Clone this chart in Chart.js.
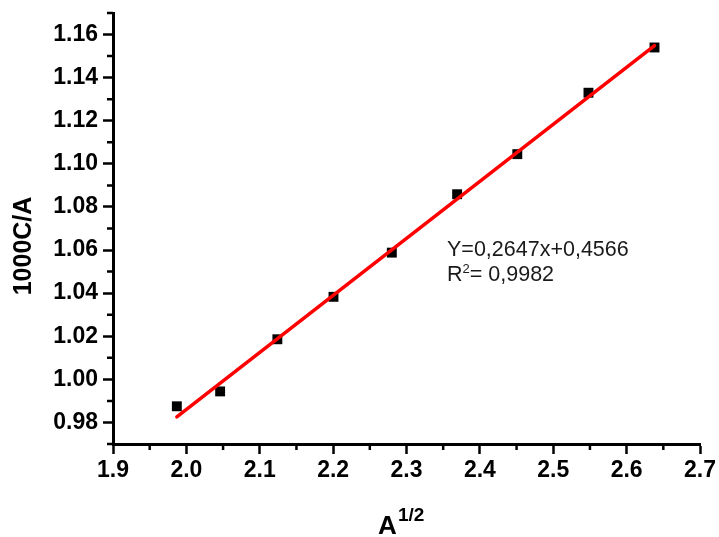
<!DOCTYPE html>
<html>
<head>
<meta charset="utf-8">
<title>1000C/A vs A^1/2</title>
<script src="https://cdn.jsdelivr.net/npm/chart.js@4"></script>
<style>
    html, body { margin: 0; padding: 0; background: #fff; }
    #wrap { width: 719px; height: 537px; }
</style>
</head>
<body>
<div id="wrap"><canvas id="chart" width="719" height="537"></canvas></div>
<script>
// Measured points
const sqrtA = [1.987, 2.046, 2.124, 2.2005, 2.280, 2.369, 2.451, 2.548, 2.638];
const cOverA = [0.9875, 0.9944, 1.0186, 1.0383, 1.0588, 1.0859, 1.1045, 1.133, 1.154];

// Linear fit
const fitSlope = 0.2647;
const fitIntercept = 0.4566;
const rSquared = 0.9982;

// Axis ticks
const xMajorTicks = [1.9, 2.0, 2.1, 2.2, 2.3, 2.4, 2.5, 2.6, 2.7];
const xMinorTicks = [1.95, 2.05, 2.15, 2.25, 2.35, 2.45, 2.55, 2.65];
const yMajorTicks = [0.98, 1.00, 1.02, 1.04, 1.06, 1.08, 1.10, 1.12, 1.14, 1.16];
const yMinorTicks = [0.97, 0.99, 1.01, 1.03, 1.05, 1.07, 1.09, 1.11, 1.13, 1.15, 1.17];

const FONT = '"Liberation Sans", Arial, sans-serif';

function comma(v, digits) {
    return v.toFixed(digits).replace('.', ',');
}

// Fit line drawn between first and last measured x
const fitLine = [sqrtA[0], sqrtA[sqrtA.length - 1]].map(x => ({ x: x, y: fitSlope * x + fitIntercept }));
const points = sqrtA.map((x, i) => ({ x: x, y: cOverA[i] }));

// Short minor ticks, axis titles and the fit equation
const extras = {
    id: 'extras',
    afterDraw(chart) {
        const ctx = chart.ctx;
        const xs = chart.scales.x;
        const ys = chart.scales.y;
        const area = chart.chartArea;

        ctx.save();
        ctx.strokeStyle = '#000';
        ctx.lineWidth = 2.5;
        ctx.beginPath();
        xMinorTicks.forEach(v => {
            const px = xs.getPixelForValue(v);
            ctx.moveTo(px, area.bottom);
            ctx.lineTo(px, area.bottom + 6);
        });
        yMinorTicks.forEach(v => {
            const py = ys.getPixelForValue(v);
            ctx.moveTo(area.left, py);
            ctx.lineTo(area.left - 6, py);
        });
        ctx.stroke();

        ctx.fillStyle = '#000';

        // y title
        ctx.save();
        ctx.translate(24, 246);
        ctx.rotate(-Math.PI / 2);
        ctx.font = 'bold 25px ' + FONT;
        ctx.textAlign = 'center';
        ctx.textBaseline = 'middle';
        ctx.fillText('1000C/A', 0, 0);
        ctx.restore();

        // x title with superscript
        ctx.textAlign = 'left';
        ctx.textBaseline = 'alphabetic';
        ctx.font = 'bold 26px ' + FONT;
        ctx.fillText('A', 378, 534);
        ctx.font = 'bold 19px ' + FONT;
        ctx.fillText('1/2', 398, 521);

        // fit equation
        ctx.fillStyle = '#1a1a1a';
        ctx.font = '21.5px ' + FONT;
        ctx.fillText('Y=' + comma(fitSlope, 4) + 'x+' + comma(fitIntercept, 4), 447, 256);
        ctx.fillText('R', 447, 281);
        const rw = ctx.measureText('R').width;
        ctx.font = '13px ' + FONT;
        ctx.fillText('2', 447 + rw, 273);
        const sw = ctx.measureText('2').width;
        ctx.font = '21.5px ' + FONT;
        ctx.fillText('= ' + comma(rSquared, 4), 447 + rw + sw, 281);
        ctx.restore();
    }
};

new Chart(document.getElementById('chart'), {
    type: 'scatter',
    data: {
        datasets: [
            {
                type: 'line',
                data: fitLine,
                borderColor: '#ff0000',
                borderWidth: 3.5,
                borderCapStyle: 'round',
                pointRadius: 0,
                fill: false,
                order: 0
            },
            {
                data: points,
                pointStyle: 'rect',
                pointRadius: 7,
                backgroundColor: '#000',
                borderWidth: 0,
                order: 1
            }
        ]
    },
    options: {
        responsive: false,
        animation: false,
        events: [],
        layout: { padding: { left: 0, top: 13, right: 19, bottom: 0 } },
        plugins: {
            legend: { display: false },
            tooltip: { enabled: false }
        },
        scales: {
            x: {
                type: 'linear',
                min: 1.9,
                max: 2.7,
                afterBuildTicks: scale => { scale.ticks = xMajorTicks.map(v => ({ value: v })); },
                afterFit: scale => { scale.height = 93; },
                border: { display: true, color: '#000', width: 3 },
                grid: { drawOnChartArea: false, tickLength: 10, tickWidth: 2.5, tickColor: '#000' },
                ticks: {
                    color: '#000',
                    padding: 3,
                    maxRotation: 0,
                    autoSkip: false,
                    font: { family: FONT, size: 23, weight: 'bold' },
                    callback: v => v.toFixed(1)
                }
            },
            y: {
                type: 'linear',
                min: 0.97,
                max: 1.17,
                afterBuildTicks: scale => { scale.ticks = yMajorTicks.map(v => ({ value: v })); },
                afterFit: scale => {
                    scale.width = 113;
                    // labels never reach the ends of the axis
                    scale.paddingTop = 0;
                    scale.paddingBottom = 0;
                },
                border: { display: true, color: '#000', width: 3 },
                grid: { drawOnChartArea: false, tickLength: 10, tickWidth: 2.5, tickColor: '#000' },
                ticks: {
                    color: '#000',
                    padding: 5,
                    autoSkip: false,
                    font: { family: FONT, size: 23, weight: 'bold' },
                    callback: v => v.toFixed(2)
                }
            }
        }
    },
    plugins: [extras]
});
</script>
</body>
</html>
